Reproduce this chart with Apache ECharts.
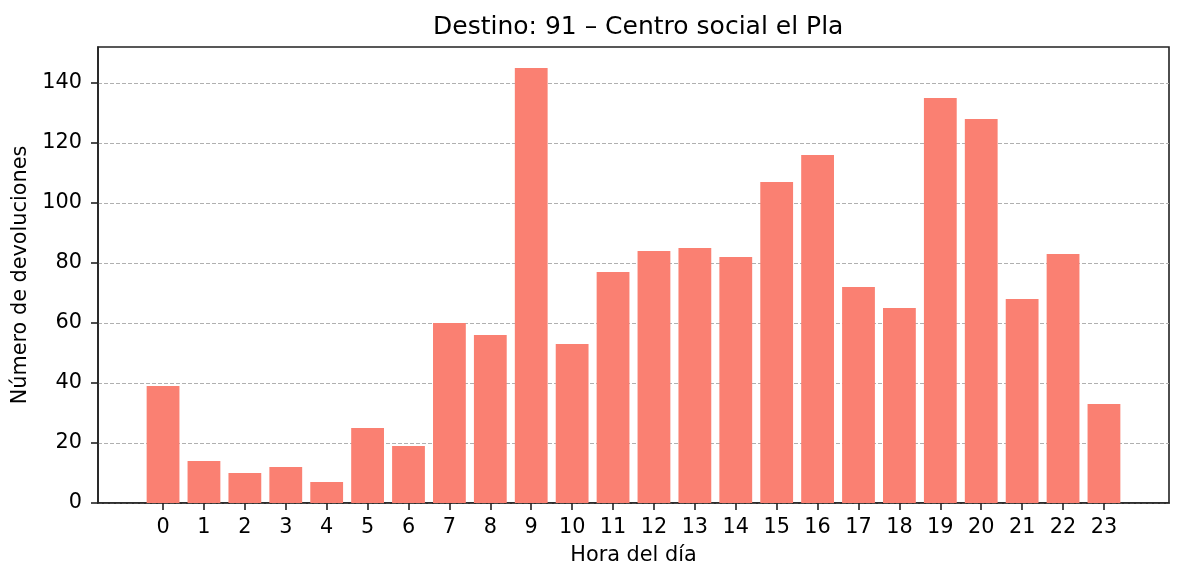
<!DOCTYPE html>
<html>
<head>
<meta charset="utf-8">
<script src="https://cdn.jsdelivr.net/npm/echarts@6/dist/echarts.min.js"></script>
<style>
    html, body { margin: 0; padding: 0; background: #fff; }
    #chart { width: 1184px; height: 581px; }
</style>
</head>
<body>
<div id="chart"></div>
<script>
// horas del día y devoluciones por hora
const hours = [0, 1, 2, 3, 4, 5, 6, 7, 8, 9, 10, 11, 12, 13, 14, 15, 16, 17, 18, 19, 20, 21, 22, 23];
const returns = [39, 14, 10, 12, 7, 25, 19, 60, 56, 145, 53, 77, 84, 85, 82, 107, 116, 72, 65, 135, 128, 68, 83, 33];
const yTicks = [0, 20, 40, 60, 80, 100, 120, 140];

const font = 'DejaVu Sans';
const axisColor = '#222';
const chart = echarts.init(document.getElementById('chart'));

chart.setOption({
    animation: false,
    title: {
        text: 'Destino: 91 – Centro social el Pla',
        left: 428,
        top: 10,
        textStyle: { fontFamily: font, fontSize: 25, fontWeight: 'normal', color: '#000' }
    },
    grid: {
        left: 98, right: 15, top: 47, bottom: 78,
        show: true, borderColor: axisColor, borderWidth: 1.6, backgroundColor: 'transparent'
    },
    xAxis: {
        type: 'value',
        min: -1.59,
        max: 24.59,
        name: 'Hora del día',
        nameLocation: 'middle',
        nameGap: 42,
        nameTextStyle: { fontFamily: font, fontSize: 20.8, color: '#000' },
        axisLine: { show: true, onZero: false, lineStyle: { color: axisColor, width: 1.6 } },
        axisTick: { show: true, length: 7, customValues: hours, lineStyle: { color: axisColor, width: 1.6 } },
        axisLabel: { customValues: hours, fontFamily: font, fontSize: 20.8, color: '#000', margin: 14 },
        splitLine: { show: false }
    },
    yAxis: {
        type: 'value',
        min: 0,
        max: 152,
        name: 'Número de devoluciones',
        nameLocation: 'middle',
        nameGap: 63,
        nameTextStyle: { fontFamily: font, fontSize: 20.8, color: '#000' },
        axisLine: { show: true, onZero: false, lineStyle: { color: axisColor, width: 1.6 } },
        axisTick: { show: true, length: 7, customValues: yTicks, lineStyle: { color: axisColor, width: 1.6 } },
        axisLabel: { customValues: yTicks, fontFamily: font, fontSize: 20.8, color: '#000', margin: 16 },
        splitLine: { show: true, customValues: yTicks, lineStyle: { color: '#b0b0b0', type: [4, 2], width: 1 } }
    },
    series: [{
        type: 'bar',
        data: hours.map((h, i) => [h, returns[i]]),
        barWidth: 32.8,
        itemStyle: { color: '#fa8072' }
    }]
});
</script>
</body>
</html>
